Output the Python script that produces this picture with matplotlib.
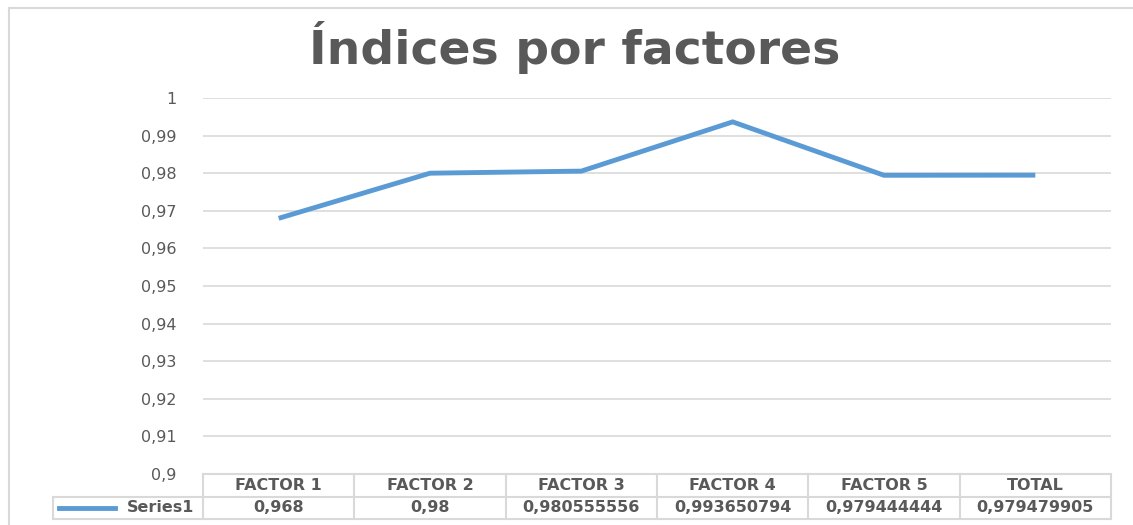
import matplotlib.pyplot as plt
from matplotlib.ticker import FuncFormatter, MultipleLocator
from matplotlib.transforms import blended_transform_factory
from matplotlib.lines import Line2D

plt.rcParams['font.family'] = ['DejaVu Sans']

categories = ['FACTOR 1', 'FACTOR 2', 'FACTOR 3', 'FACTOR 4', 'FACTOR 5', 'TOTAL']
values = [0.968, 0.98, 0.980555556, 0.993650794, 0.979444444, 0.979479905]
series_name = 'Series1'

TXT = '#595959'
GRID = '#d9d9d9'
LINE = '#5b9bd5'

W, H = 1133, 525
fig = plt.figure(figsize=(W / 100, H / 100), dpi=100)
ax = fig.add_axes([203 / W, 1 - 474 / H, (1111 - 203) / W, (474 - 98) / H])

x = list(range(len(categories)))
ax.plot(x, values, color=LINE, lw=3.5, solid_capstyle='butt', solid_joinstyle='miter', zorder=3)

ax.set_xlim(-0.5, len(categories) - 0.5)
ax.set_ylim(0.9, 1.0)
ax.yaxis.set_major_locator(MultipleLocator(0.01))
ax.yaxis.set_major_formatter(FuncFormatter(lambda v, p: f"{v:.2f}".rstrip('0').rstrip('.').replace('.', ',')))
ax.grid(axis='y', color=GRID, lw=1.2)
ax.set_axisbelow(True)
ax.set_xticks([])
ax.tick_params(axis='y', length=0, pad=19, labelsize=11.5, labelcolor=TXT)
for s in ax.spines.values():
    s.set_visible(False)

# data table below the axes (x in data units, y in axes units)
tr = blended_transform_factory(ax.transData, ax.transAxes)
ph = (474 - 98)
y0 = 0.0
y1 = -(497 - 474) / ph
y2 = -(519 - 474) / ph
xl = -0.5
xr = len(categories) - 0.5
unit = (1111 - 203) / len(categories)
xleg = xl - (203 - 53) / unit
tbl = dict(color=GRID, lw=1.5, transform=tr, clip_on=False)
ax.add_line(Line2D([xl, xr], [y0, y0], **tbl))
ax.add_line(Line2D([xleg, xr], [y1, y1], **tbl))
ax.add_line(Line2D([xleg, xr], [y2, y2], **tbl))
ax.add_line(Line2D([xleg, xleg], [y1, y2], **tbl))
for i in range(len(categories) + 1):
    ax.add_line(Line2D([i - 0.5, i - 0.5], [y0, y2], **tbl))

for i, (c, v) in enumerate(zip(categories, values)):
    ax.text(i, (y0 + y1) / 2, c, transform=tr, ha='center', va='center',
            fontsize=11.5, fontweight='bold', color=TXT)
    lbl = f"{v:.9f}".rstrip('0').rstrip('.').replace('.', ',')
    ax.text(i, (y1 + y2) / 2, lbl, transform=tr, ha='center', va='center',
            fontsize=11.5, fontweight='bold', color=TXT)

# legend key in the table
ax.add_line(Line2D([xl - (203 - 59) / unit, xl - (203 - 115) / unit], [(y1 + y2) / 2] * 2,
                   color=LINE, lw=3.5, transform=tr, clip_on=False))
ax.text(xl - (203 - 194) / unit, (y1 + y2) / 2, series_name, transform=tr, ha='right', va='center',
        fontsize=11.5, fontweight='bold', color=TXT)

# title
fig.text(575 / W, 1 - 48 / H, 'Índices por factores', ha='center', va='center',
         fontsize=34, fontweight='bold', color=TXT)

# chart border (left and top)
fig.add_artist(Line2D([9 / W, 9 / W], [0, 1 - 8 / H], color=GRID, lw=1.5))
fig.add_artist(Line2D([9 / W, 1], [1 - 8 / H, 1 - 8 / H], color=GRID, lw=1.5))

fig.savefig('out.png', dpi=100)
